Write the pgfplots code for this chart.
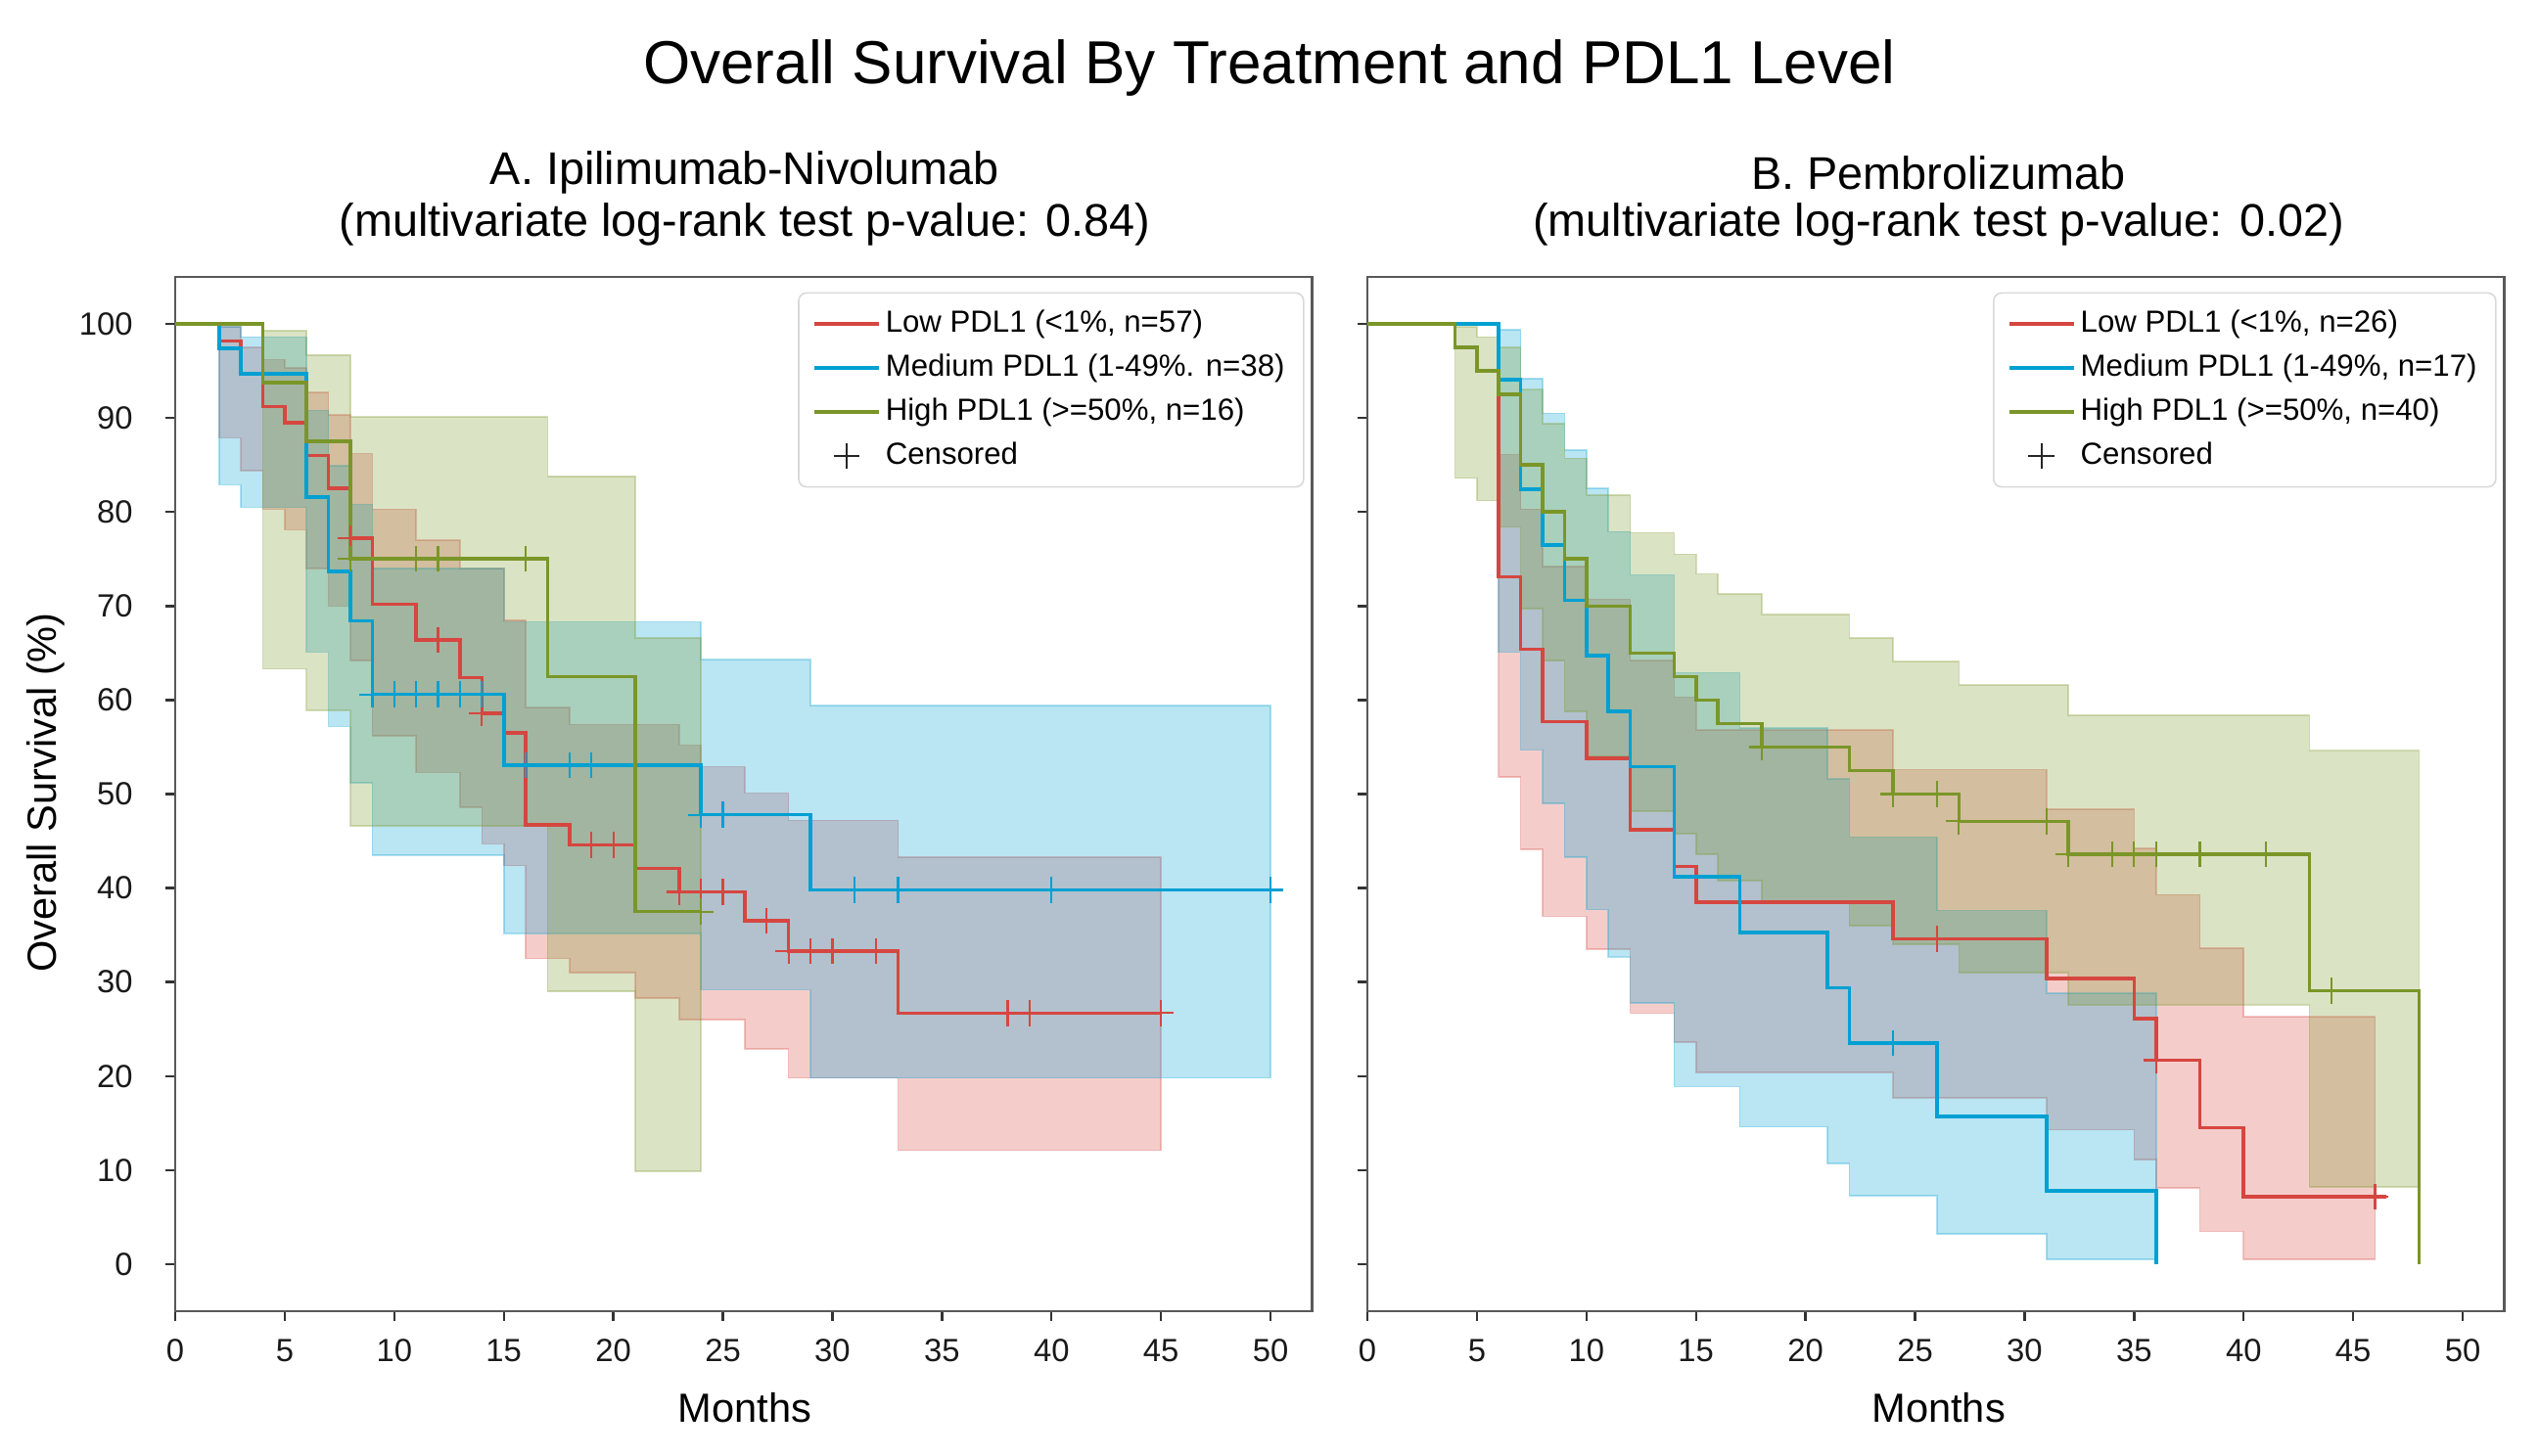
\documentclass[border=0pt]{standalone}
\usepackage{fontspec}
\setmainfont{Liberation Sans}
\usepackage{pgfplots}
\pgfplotsset{compat=1.18}

\definecolor{cred}{RGB}{214,70,64}
\definecolor{cblue}{RGB}{0,160,210}
\definecolor{cgreen}{RGB}{122,150,40}

\pgfplotsset{
  km/.style={
    width=290.4pt, height=264.25pt, scale only axis,
    xmin=0, xmax=51.9, ymin=-5, ymax=105,
    xtick={0,5,...,50}, ytick={0,10,...,100},
    tick pos=left, tick align=outside,
    major tick length=2.4pt,
    axis line style={black!65, line width=0.6pt},
    tick style={black!80, line width=0.6pt},
    ticklabel style={font=\fontsize{8.2}{9}\selectfont, black!90},
    /pgf/number format/assume math mode=true,
    xticklabel style={anchor=center, yshift=-7.7pt},
    yticklabel style={anchor=east, inner sep=0pt, xshift=-8.25pt},
    clip=false,
    legend cell align=left,
    legend image code/.code={\draw[##1] (0pt,0pt) -- (16.5pt,0pt);},
    legend style={at={(1,1)}, anchor=north east, xshift=-2pt, yshift=-3.9pt,
      draw=black!15, rounded corners=2pt, font=\fontsize{7.8}{9}\selectfont,
      inner xsep=3.5pt, inner ysep=3pt, row sep=1.45pt,
      nodes={inner sep=1.3pt, text height=5.7pt, text depth=1.5pt}},
  },
  % band: upper steps forward, then lower steps backward (const plot closes the region)
  band/.style={const plot, fill=#1, fill opacity=0.27, draw=#1, draw opacity=0.3, line width=0.4pt, forget plot},
  curve/.style={const plot, draw=#1, line width=0.9pt, forget plot},
  cens/.style={only marks, mark=+, mark size=3.3pt, draw=#1, line width=0.55pt, forget plot},
}

\begin{document}
\begin{tikzpicture}

% ---------- A. Ipilimumab-Nivolumab ----------
\begin{axis}[km, at={(0pt,0pt)}, anchor=south west]
% confidence bands
\addplot[band=cred] coordinates {(0,100)(2,99.7)(3,97.5)(4,96.2)(5,95.3)(6,92.7)(7,90.3)(8,86.2)(9,80.3)(11,77.0)(13,74.0)(15,68.5)(16,59.2)(18,57.4)(23,55.2)(24,52.9)(26,50.1)(28,47.2)(33,43.3)(45,43.3)
  (45,12.1)(33,19.8)(28,22.9)(26,26.0)(23,28.3)(21,31.0)(18,32.5)(16,42.4)(15,44.7)(14,48.6)(13,52.3)(11,56.2)(9,64.2)(8,70.0)(7,74.0)(6,78.1)(5,80.3)(4,84.4)(3,87.9)(2,100)(0,100)};
\addplot[band=cblue] coordinates {(0,100)(2,99.7)(3,98.6)(6,90.8)(7,84.9)(8,80.8)(9,74.0)(15,68.3)(24,64.3)(29,59.4)(50,59.4)
  (50,19.8)(29,29.2)(24,35.2)(15,43.5)(9,51.2)(8,57.2)(7,65.1)(6,80.5)(3,82.9)(2,100)(0,100)};
\addplot[band=cgreen] coordinates {(0,100)(4,99.3)(6,96.7)(8,90.1)(17,83.8)(21,66.6)(24,66.6)
  (24,9.9)(21,29.0)(17,46.6)(8,58.9)(6,63.3)(4,100)(0,100)};
% survival curves
\addplot[curve=cred] coordinates {(0,100)(2,98.2)(3,94.7)(4,91.2)(5,89.5)(6,86.0)(7,82.5)(8,77.2)(9,70.2)(11,66.4)(13,62.4)(14,58.6)(15,56.5)(16,46.7)(18,44.6)(21,42.1)(23,39.6)(26,36.5)(28,33.3)(33,26.7)(45,26.7)};
\addplot[curve=cblue] coordinates {(0,100)(2,97.4)(3,94.7)(6,81.6)(7,73.7)(8,68.4)(9,60.6)(15,53.1)(24,47.8)(29,39.8)(50,39.8)};
\addplot[curve=cgreen] coordinates {(0,100)(4,93.75)(6,87.5)(8,75)(17,62.5)(21,37.5)(24,37.5)};
% censored
\addplot[cens=cred] coordinates {(8,77.2)(12,66.4)(14,58.6)(19,44.6)(20,44.6)(23,39.6)(24,39.6)(25,39.6)(27,36.5)(28,33.3)(29,33.3)(30,33.3)(32,33.3)(38,26.7)(39,26.7)(45,26.7)};
\addplot[cens=cblue] coordinates {(9,60.6)(10,60.6)(11,60.6)(12,60.6)(13,60.6)(14,60.6)(16,53.1)(18,53.1)(19,53.1)(24,47.8)(25,47.8)(31,39.8)(33,39.8)(40,39.8)(50,39.8)};
\addplot[cens=cgreen] coordinates {(8,75)(11,75)(12,75)(16,75)(24,37.5)};
% legend
\addlegendimage{draw=cred, line width=0.9pt}
\addlegendentry{Low PDL1 (<1\%, n=57)}
\addlegendimage{draw=cblue, line width=0.9pt}
\addlegendentry{Medium PDL1 (1-49\%. n=38)}
\addlegendimage{draw=cgreen, line width=0.9pt}
\addlegendentry{High PDL1 (>=50\%, n=16)}
\addlegendimage{legend image code/.code={\draw[black!85, line width=0.55pt] (4.95pt,0pt) -- (11.55pt,0pt) (8.25pt,-3.3pt) -- (8.25pt,3.3pt);}}
\addlegendentry{Censored}
\end{axis}

% ---------- B. Pembrolizumab ----------
\begin{axis}[km, at={(304.5pt,0pt)}, anchor=south west, yticklabels={}]
\addplot[band=cred] coordinates {(0,100)(6,86.1)(7,80.3)(8,74.2)(10,70.7)(12,64.2)(14,60.3)(15,56.8)(24,52.6)(31,48.4)(35,44.2)(36,39.3)(38,33.6)(40,26.3)(46,26.3)
  (46,0.5)(40,3.5)(38,8.1)(36,11.1)(35,14.3)(31,17.7)(24,20.4)(15,23.6)(14,26.7)(12,33.5)(10,37.0)(8,44.1)(7,51.8)(6,100)(0,100)};
\addplot[band=cblue] coordinates {(0,100)(6,99.4)(7,94.2)(8,90.5)(9,86.6)(10,82.5)(11,77.9)(12,73.3)(14,62.9)(17,57.0)(21,51.6)(22,45.4)(26,37.6)(31,28.8)(36,28.8)
  (36,0.5)(31,3.2)(26,7.3)(22,10.7)(21,14.6)(17,18.9)(14,27.8)(12,32.7)(11,37.7)(10,43.3)(9,49.0)(8,54.7)(7,65.1)(6,100)(0,100)};
\addplot[band=cgreen] coordinates {(0,100)(4,99.7)(5,98.6)(6,97.5)(7,93.0)(8,89.4)(9,85.7)(10,81.8)(12,77.8)(14,75.5)(15,73.4)(16,71.3)(18,69.1)(22,66.6)(24,64.1)(27,61.6)(32,58.4)(43,54.6)(48,54.6)
  (48,8.2)(43,27.6)(32,31.0)(27,34.0)(24,36.0)(22,38.5)(18,40.8)(16,43.6)(15,45.8)(14,48.2)(12,54.0)(10,58.8)(9,64.2)(8,69.7)(7,78.4)(6,81.2)(5,83.6)(4,100)(0,100)};
\addplot[curve=cred] coordinates {(0,100)(6,73.1)(7,65.4)(8,57.7)(10,53.8)(12,46.2)(14,42.3)(15,38.5)(24,34.6)(31,30.4)(35,26.1)(36,21.7)(38,14.5)(40,7.2)(46.5,7.2)};
\addplot[curve=cblue] coordinates {(0,100)(6,94.1)(7,82.4)(8,76.5)(9,70.6)(10,64.7)(11,58.8)(12,52.9)(14,41.2)(17,35.3)(21,29.4)(22,23.5)(26,15.7)(31,7.8)(36,0)};
\addplot[curve=cgreen] coordinates {(0,100)(4,97.5)(5,95)(6,92.5)(7,85)(8,80)(9,75)(10,70)(12,65)(14,62.5)(15,60)(16,57.5)(18,55)(22,52.5)(24,50)(27,47.1)(32,43.6)(43,29.1)(48,0)};
\addplot[cens=cred] coordinates {(26,34.6)(36,21.7)(46,7.2)};
\addplot[cens=cblue] coordinates {(24,23.5)};
\addplot[cens=cgreen] coordinates {(18,55)(24,50)(26,50)(27,47.1)(31,47.1)(32,43.6)(34,43.6)(35,43.6)(36,43.6)(38,43.6)(41,43.6)(44,29.1)};
\addlegendimage{draw=cred, line width=0.9pt}
\addlegendentry{Low PDL1 (<1\%, n=26)}
\addlegendimage{draw=cblue, line width=0.9pt}
\addlegendentry{Medium PDL1 (1-49\%, n=17)}
\addlegendimage{draw=cgreen, line width=0.9pt}
\addlegendentry{High PDL1 (>=50\%, n=40)}
\addlegendimage{legend image code/.code={\draw[black!85, line width=0.55pt] (4.95pt,0pt) -- (11.55pt,0pt) (8.25pt,-3.3pt) -- (8.25pt,3.3pt);}}
\addlegendentry{Censored}
\end{axis}

% titles and axis labels
\node[font=\fontsize{15.5}{18}\selectfont] at (279.5pt,317.7pt) {Overall Survival By Treatment and PDL1 Level};
\node[font=\fontsize{11.7}{14}\selectfont] at (145.5pt,290.8pt) {A. Ipilimumab-Nivolumab};
\node[font=\fontsize{11.7}{14}\selectfont] at (145.5pt,277.6pt) {(multivariate log-rank test p-value: 0.84)};
\node[font=\fontsize{11.7}{14}\selectfont] at (450.4pt,290.8pt) {B. Pembrolizumab};
\node[font=\fontsize{11.7}{14}\selectfont] at (450.4pt,277.6pt) {(multivariate log-rank test p-value: 0.02)};
\node[font=\fontsize{10.4}{12}\selectfont] at (145.5pt,-24.75pt) {Months};
\node[font=\fontsize{10.4}{12}\selectfont] at (450.4pt,-24.75pt) {Months};
\node[font=\fontsize{10.4}{12}\selectfont, rotate=90] at (-33pt,132.5pt) {Overall Survival (\%)};
\path (-44.75pt,-37pt) rectangle (603.75pt,335pt);
\end{tikzpicture}
\end{document}
